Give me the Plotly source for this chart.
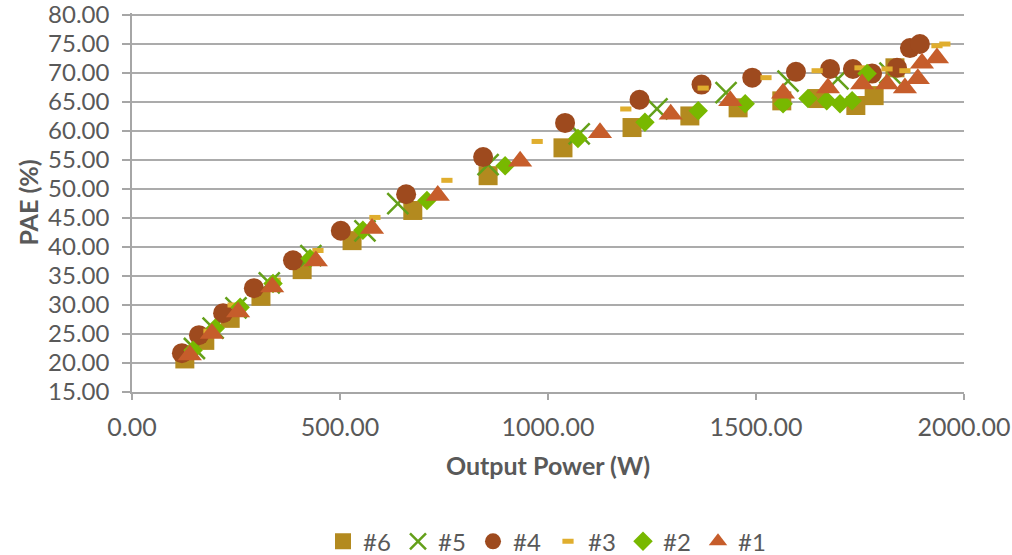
import plotly.graph_objects as go

# ---- data ----
x6 = [127, 175, 236, 310, 409, 529, 675, 856, 1036, 1202, 1341, 1457, 1562, 1649, 1740, 1784, 1834]
y6 = [20.7, 23.9, 27.7, 31.5, 36.1, 41.1, 46.3, 52.3, 57.1, 60.6, 62.6, 64.0, 65.2, 65.6, 64.4, 66.1, 70.9]

x5 = [150, 195, 250, 330, 430, 560, 639, 856, 1075, 1262, 1428, 1577, 1697, 1822]
y5 = [22.5, 26.0, 29.5, 33.8, 38.5, 42.8, 47.5, 54.2, 59.5, 63.8, 66.6, 68.6, 69.0, 70.0]

x4 = [120, 161, 219, 293, 387, 502, 659, 844, 1041, 1220, 1369, 1491, 1596, 1678, 1733, 1779, 1839, 1870, 1894]
y4 = [21.7, 24.8, 28.6, 32.9, 37.7, 42.8, 49.1, 55.5, 61.4, 65.4, 68.0, 69.2, 70.2, 70.7, 70.7, 69.9, 70.9, 74.3, 75.0]

x3 = [140, 185, 243, 344, 447, 584, 757, 974, 1187, 1373, 1524, 1647, 1750, 1815, 1858, 1935, 1954]
y3 = [22.0, 25.5, 30.0, 34.3, 39.4, 45.1, 51.5, 58.2, 63.8, 67.4, 69.2, 70.4, 70.9, 70.7, 70.4, 74.7, 75.0]

x2 = [147, 200, 260, 339, 428, 555, 709, 897, 1072, 1233, 1361, 1474, 1565, 1625, 1670, 1702, 1731, 1767]
y2 = [22.2, 26.0, 29.6, 33.7, 38.0, 42.9, 48.0, 54.0, 58.7, 61.5, 63.5, 64.7, 64.7, 65.6, 65.2, 64.7, 65.2, 69.9]

x1 = [139, 192, 255, 337, 442, 577, 735, 933, 1125, 1295, 1438, 1565, 1673, 1755, 1815, 1858, 1889, 1899, 1935]
y1 = [21.4, 25.1, 28.8, 33.1, 37.6, 43.2, 48.9, 54.8, 59.7, 62.9, 65.2, 66.5, 67.4, 68.1, 68.1, 67.4, 69.0, 71.7, 72.6]

x_ticks = [0, 500, 1000, 1500, 2000]
y_ticks = [15, 20, 25, 30, 35, 40, 45, 50, 55, 60, 65, 70, 75, 80]

names = ["#6", "#5", "#4", "#3", "#2", "#1"]
xs = [x6, x5, x4, x3, x2, x1]
ys = [y6, y5, y4, y3, y2, y1]
colors = ["#B38A1F", "#64A01A", "#9E4A1E", "#E0AE2E", "#78B800", "#C65D2B"]
symbols = ["square", "x-thin", "circle", "line-ew", "diamond", "triangle-up"]
sizes = [19, 21, 20, 8, 15, 21]
linew = [0, 2.5, 0, 5, 0, 0]

FONT = "Lato"
GRAY = "#595959"

fig = go.Figure()
for n, x, y, c, s, sz, lw in zip(names, xs, ys, colors, symbols, sizes, linew):
    fig.add_trace(go.Scatter(
        x=x, y=y, name=n, mode="markers",
        marker=dict(symbol=s, size=sz, color=c, line=dict(width=lw, color=c)),
    ))

fig.update_layout(
    width=1012, height=555,
    margin=dict(l=132, r=48, t=13, b=163, autoexpand=False),
    paper_bgcolor="white", plot_bgcolor="white",
    font=dict(family=FONT, size=24, color=GRAY),
    showlegend=True,
    legend=dict(orientation="h", x=0.5, xanchor="center", y=-0.395, yanchor="middle",
                font=dict(family=FONT, size=24, color=GRAY), itemsizing="trace",
                itemwidth=30, entrywidth=30, entrywidthmode="pixels"),
    xaxis=dict(
        range=[0, 2000], tickmode="array", tickvals=x_ticks, tickformat=".2f",
        showgrid=False, zeroline=False, automargin=False,
        showline=True, linecolor="#A6A6A6", linewidth=1.5,
        ticks="outside", ticklen=6, tickcolor="#A6A6A6", tickwidth=1.5,
        ticklabelstandoff=6, ticklabeloverflow="allow",
        tickfont=dict(family=FONT, size=25, color=GRAY),
        title=dict(text="<b>Output Power (W)</b>", standoff=18,
                   font=dict(family=FONT, size=25, color=GRAY)),
    ),
    yaxis=dict(
        range=[15, 80.35], tickmode="array", tickvals=y_ticks, tickformat=".2f",
        showgrid=True, gridcolor="#ABABAB", gridwidth=1.5, zeroline=False, automargin=False,
        showline=True, linecolor="#A6A6A6", linewidth=1.5,
        ticks="outside", ticklen=8, tickcolor="#A6A6A6", tickwidth=1.5,
        ticklabelstandoff=8, ticklabeloverflow="allow",
        tickfont=dict(family=FONT, size=24, color=GRAY),
        title=dict(text="<b>PAE (%)</b>", standoff=2,
                   font=dict(family=FONT, size=25, color=GRAY)),
    ),
)

fig.write_html("out.html")
